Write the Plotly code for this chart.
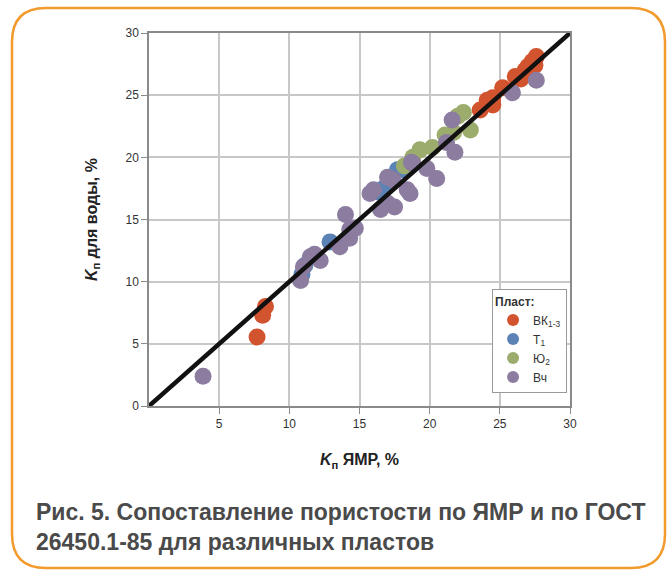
import plotly.graph_objects as go

# ---- data ----
vk_x = [7.7, 8.1, 8.3, 23.6, 24.1, 24.5, 24.5, 25.2, 26.1, 26.5, 26.8, 27.0, 27.3, 27.5, 27.6]
vk_y = [5.55, 7.3, 8.0, 23.8, 24.6, 24.2, 24.8, 25.6, 26.5, 26.3, 27.0, 27.3, 27.7, 27.4, 28.1]

t1_x = [10.9, 11.1, 12.9, 16.4, 16.7, 17.7, 18.1]
t1_y = [10.6, 11.3, 13.2, 17.2, 17.5, 19.0, 19.0]

yu2_x = [18.2, 18.8, 19.3, 20.2, 21.1, 21.7, 22.0, 22.4, 22.9]
yu2_y = [19.3, 20.0, 20.6, 20.8, 21.8, 22.0, 23.3, 23.6, 22.2]

vch_x = [3.85, 10.8, 11.0, 11.5, 11.8, 12.2, 13.6, 14.0, 14.3, 14.3, 14.7, 15.75, 16.0, 16.5,
         17.0, 17.0, 17.4, 17.5, 18.4, 18.6, 18.7, 18.8, 19.8, 20.5, 21.2, 21.6, 21.8, 25.9, 27.6]
vch_y = [2.4, 10.1, 11.2, 12.0, 12.2, 11.7, 12.8, 15.4, 13.5, 14.2, 14.3, 17.1, 17.4, 15.8,
         16.3, 18.4, 18.2, 16.0, 17.4, 17.1, 19.6, 19.5, 19.1, 18.3, 21.2, 23.0, 20.4, 25.2, 26.2]

line_x = [0, 30]
line_y = [0, 30]

x_ticks = [5, 10, 15, 20, 25, 30]
y_ticks = [0, 5, 10, 15, 20, 25, 30]

series = [
    ("ВК<sub>1-3</sub>", vk_x, vk_y, "#d2542f"),
    ("Т<sub>1</sub>", t1_x, t1_y, "#5b83b6"),
    ("Ю<sub>2</sub>", yu2_x, yu2_y, "#9bac6d"),
    ("Вч", vch_x, vch_y, "#8b7ca0"),
]

FONT = "Liberation Sans"

fig = go.Figure()
for name, xs, ys, col in series:
    fig.add_trace(go.Scatter(
        x=xs, y=ys, mode="markers", name=name,
        marker=dict(size=17, color=col, line=dict(width=0)),
        cliponaxis=False,
    ))

fig.add_trace(go.Scatter(
    x=line_x, y=line_y, mode="lines", showlegend=False,
    line=dict(color="#111111", width=4.5),
))

W, H = 672, 575
L, R, T, B = 149, 102, 33, 169
pw, ph = W - L - R, H - T - B

def px(x):
    return (x - L) / pw

def py(y):
    return (H - B - y) / ph

# rounded orange frame
x0, x1, y0, y1, r = 12, 665, 8, 568, 34
path = (
    f"M {px(x0 + r)} {py(y0)} L {px(x1 - r)} {py(y0)} "
    f"Q {px(x1)} {py(y0)} {px(x1)} {py(y0 + r)} "
    f"L {px(x1)} {py(y1 - r)} "
    f"Q {px(x1)} {py(y1)} {px(x1 - r)} {py(y1)} "
    f"L {px(x0 + r)} {py(y1)} "
    f"Q {px(x0)} {py(y1)} {px(x0)} {py(y1 - r)} "
    f"L {px(x0)} {py(y0 + r)} "
    f"Q {px(x0)} {py(y0)} {px(x0 + r)} {py(y0)} Z"
)
fig.add_shape(type="path", path=path, xref="paper", yref="paper",
              line=dict(color="#f39a2c", width=2.5), layer="below")

fig.add_annotation(
    text="Рис. 5. Сопоставление пористости по ЯМР и по ГОСТ<br>26450.1-85 для различных пластов",
    xref="paper", yref="paper", x=px(34), y=py(497), xanchor="left", yanchor="top",
    align="left", showarrow=False,
    font=dict(family=FONT, size=23, color="#4a4a4a", weight="bold"),
)

axis_common = dict(
    range=[0, 30], showgrid=True, gridcolor="#c8c8c8", gridwidth=1.5,
    showline=True, linecolor="#8a8a8a", linewidth=1.5, mirror=True,
    ticks="outside", ticklen=6, tickcolor="#8a8a8a", tickwidth=1,
    tickfont=dict(family=FONT, size=12, color="#333333"),
    zeroline=False, fixedrange=True,
)

fig.update_xaxes(**axis_common, tickvals=x_ticks,
                 title=dict(text="<i>K</i><sub>п</sub> ЯМР, %", standoff=24,
                            font=dict(family=FONT, size=16, color="#222222", weight="bold")))
fig.update_yaxes(**axis_common, tickvals=y_ticks,
                 title=dict(text="<i>K</i><sub>п</sub> для воды, %", standoff=24,
                            font=dict(family=FONT, size=16, color="#222222", weight="bold")))

fig.update_layout(
    width=W, height=H,
    margin=dict(l=L, r=R, t=T, b=B),
    paper_bgcolor="white", plot_bgcolor="white",
    showlegend=True,
    legend=dict(
        x=0.993, y=0.035, xanchor="right", yanchor="bottom",
        bgcolor="white", bordercolor="#9a9a9a", borderwidth=1,
        title=dict(text="<b>Пласт:</b>", font=dict(family=FONT, size=12, color="#333333")),
        font=dict(family=FONT, size=12, color="#333333"),
        itemsizing="constant", tracegroupgap=0,
    ),
)

fig.write_html("out.html", config={"displayModeBar": False},
               post_script="document.body.style.margin='0';document.body.style.padding='0';")
